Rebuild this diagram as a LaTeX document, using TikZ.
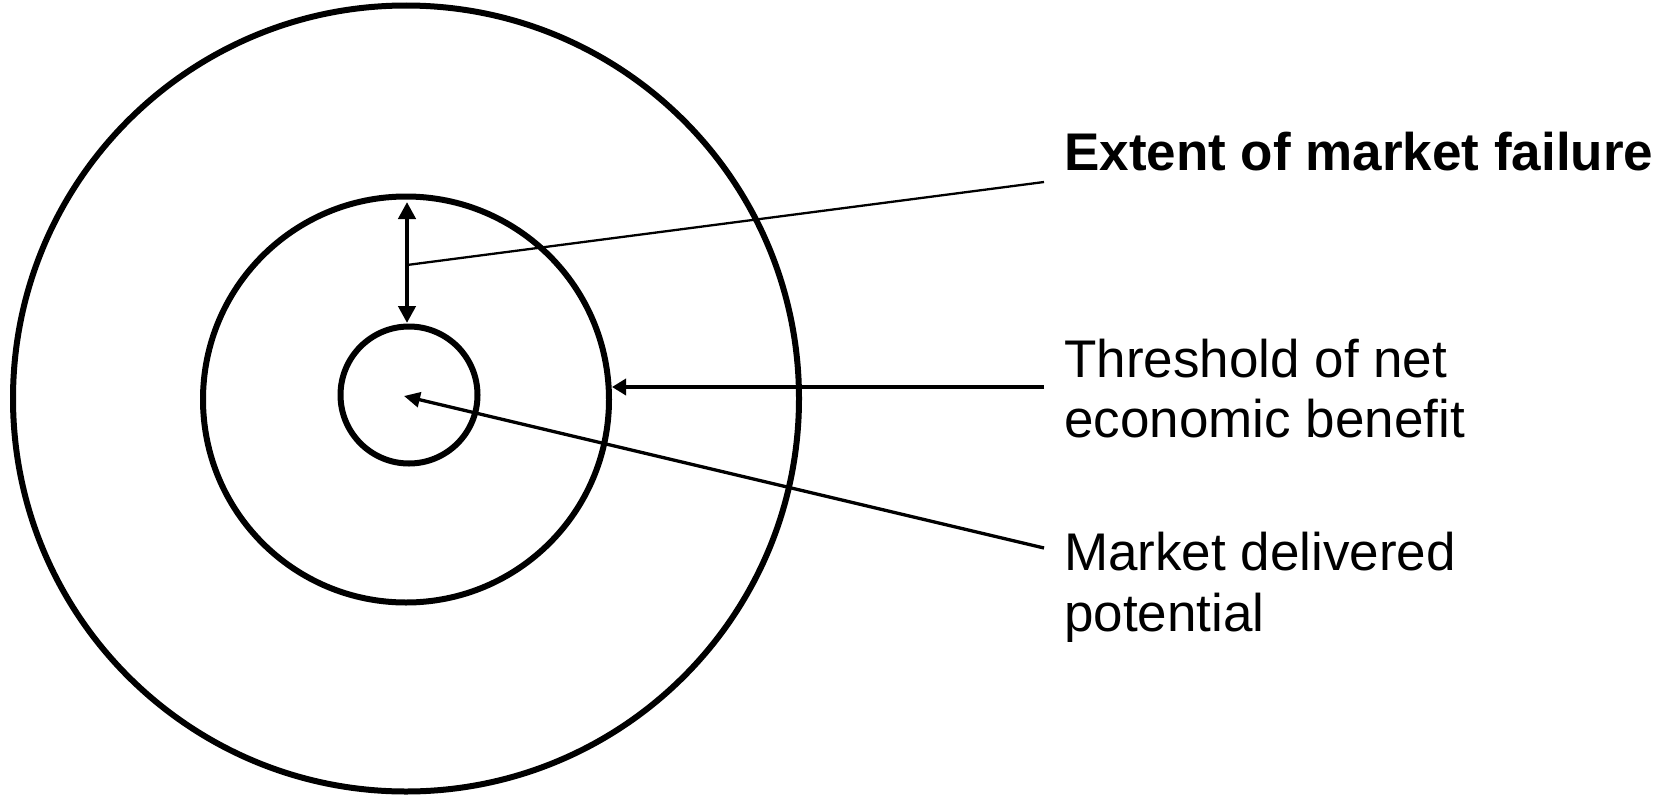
\documentclass[tikz,border=0pt]{standalone}
\usepackage{fontspec}
\setmainfont{Liberation Sans}
\usetikzlibrary{arrows.meta}
\begin{document}
\begin{tikzpicture}[x=1pt,y=-1pt,
  ring/.style={draw=black, line width=6pt, circle, inner sep=0pt, outer sep=0pt},
  lbl/.style={anchor=base west, inner sep=0pt, font=\fontsize{53}{61}\selectfont},
  dblarrow/.style={line width=4.5pt, {Triangle[length=17pt,width=17pt]}-{Triangle[length=17pt,width=17pt]}},
  leader/.style={line width=2.3pt},
  thrarrow/.style={line width=4pt, -{Triangle[length=14pt,width=16pt]}},
  mktarrow/.style={line width=3.3pt, -{Triangle[length=16pt,width=15pt]}}]
\fill[white] (0,0) rectangle (1664,795);
\useasboundingbox (0,0) rectangle (1664,795);
% circles
\node[ring, minimum size=786pt] (outer) at (406,398.5) {};
\node[ring, minimum size=406pt] (mid) at (406,399.5) {};
\node[ring, minimum size=137pt] (inner) at (409,395) {};
% coordinates
\coordinate (dtop) at (407,202);
\coordinate (dbot) at (407,323);
\coordinate (lstart) at (407,265);
\coordinate (lend) at (1044,182);
\coordinate (tstart) at (1044,387);
\coordinate (tend) at (612,387);
\coordinate (mstart) at (1044,548);
\coordinate (mend) at (404,396);
% labels
\node[lbl, font=\fontsize{53}{61}\selectfont\bfseries] (ext) at (1064,170) {Extent of market failure};
\node[lbl] (thr1) at (1064,377) {Threshold of net};
\node[lbl] (thr2) at (1064,437) {economic benefit};
\node[lbl] (mkt1) at (1064,570) {Market delivered};
\node[lbl] (mkt2) at (1064,631) {potential};
% connectors
\draw[dblarrow] (dtop) -- (dbot);
\draw[leader] (lstart) -- (lend);
\draw[thrarrow] (tstart) -- (tend);
\draw[mktarrow] (mstart) -- (mend);
\end{tikzpicture}
\end{document}
